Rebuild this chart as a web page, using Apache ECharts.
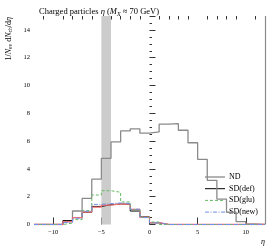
<!DOCTYPE html>
<html><head><meta charset="utf-8">
<script src="https://cdn.jsdelivr.net/npm/echarts@6/dist/echarts.min.js"></script>
<style>html,body{margin:0;padding:0;background:#fff}#c{width:274px;height:248px}</style>
</head><body><div id="c"></div>
<script>
const binEdges = [-12,-11,-10,-9,-8,-7,-6,-5,-4,-3,-2,-1,0,1,2,3,4,5,6,7,8,9,10,11,12];
const ndValues    = [0,0,0,0.2,0.97,1.88,3.26,4.76,5.94,6.73,6.88,6.57,6.66,7.22,7.25,6.78,5.88,4.69,3.18,1.83,0.88,0.2,0.05,0];
const sdDefValues = [0,0,0,0.28,0.5,0.88,1.3,1.42,1.48,1.45,0.97,0.55,0.12,0,0,0,0,0,0,0,0,0,0,0];
const sdRedValues = [0,0,0,0.2,0.5,0.9,1.25,1.4,1.48,1.47,1.09,0.52,0.13,0,0,0,0,0,0,0,0,0,0,0];
const sdGluValues = [0,0,0,0.1,0.35,1.0,2.12,2.43,2.32,1.62,1.06,0.52,0.18,0,0,0,0,0,0,0,0,0,0,0];
const sdNewValues = [0,0,0,0.15,0.45,0.95,1.45,1.5,1.55,1.52,1.1,0.5,0.12,0,0,0,0,0,0,0,0,0,0,0];
const majorXTicks = [-10,-5,0,5,10];
const minorXTicks = [-11,-9,-8,-7,-6,-4,-3,-2,-1,1,2,3,4,6,7,8,9,11];
const bandRange = [-5,-4];
const legendNames = ['ND','SD(def)','SD(glu)','SD(new)'];

function stepData(vals){
  const d = vals.map((v,i)=>[binEdges[i], v]);
  d.push([binEdges[binEdges.length-1], vals[vals.length-1]]);
  return d;
}
const F = 'Liberation Serif';
const chart = echarts.init(document.getElementById('c'));
const styles = {
  'ND':{color:'#8a8a8a', type:'solid', width:1.3},
  'SD(def)':{color:'#000000', type:'solid', width:1},
  'sd':{color:'#f07070', type:'solid', width:1.3},
  'SD(glu)':{color:'#66bb66', type:[3,2], width:1},
  'SD(new)':{color:'#6f8fe8', type:[4,1.5,1,1.5], width:1}
};
function lineSeries(name, vals, z){
  const s = styles[name];
  return {name, type:'line', data: stepData(vals), step:'end', symbol:'none', showSymbol:false,
    lineStyle:{color:s.color, type:s.type, width:s.width}, itemStyle:{color:s.color}, z, animation:false, silent:true};
}
const series = [
  Object.assign(lineSeries('ND', ndValues, 3), {
    markArea:{silent:true, itemStyle:{color:'#cccccc'}, data:[[{xAxis:bandRange[0]},{xAxis:bandRange[1]}]]},
    markLine:{silent:true, symbol:'none', label:{show:false}, lineStyle:{color:'#8a8a8a', type:'solid', width:1.2}, data:[{xAxis:12}]}
  }),
  lineSeries('SD(def)', sdDefValues, 4),
  lineSeries('sd', sdRedValues, 5),
  lineSeries('SD(glu)', sdGluValues, 6),
  lineSeries('SD(new)', sdNewValues, 7)
];
const legendGraphics = [];
legendNames.forEach((n,i)=>{
  const s = styles[n];
  const y = 177 + 11.7*i;
  legendGraphics.push({type:'line', shape:{x1:205,y1:y,x2:225,y2:y},
    style:{stroke:s.color, lineWidth:s.width, lineDash: Array.isArray(s.type)?s.type:null}});
  legendGraphics.push({type:'text', x:229, y:y, style:{text:n, font:'8px "Liberation Serif"', fill:'#000', textVerticalAlign:'middle'}});
});
chart.setOption({
  animation:false,
  grid: {left:34, right:9, top:16, bottom:23.5},
  title:{text:'{n|Charged particles }{i|η}{n| (}{i|M}{s|X}{n| ≈ 70 GeV)}', left:34, top:2,
    textStyle:{fontWeight:'normal', rich:{n:{fontFamily:F,fontSize:8.5,fontWeight:'normal',color:'#000'}, i:{fontFamily:F,fontSize:8.5,fontWeight:'normal',fontStyle:'italic',color:'#000'}, s:{fontFamily:F,fontSize:6,fontWeight:'normal',fontStyle:'italic',color:'#000',verticalAlign:'bottom',padding:[4,0,0,0]}}}},
  xAxis:[
    {type:'value', min:-12, max:12, axisLine:{show:false}, splitLine:{show:false},
     axisTick:{show:true, inside:true, length:7, customValues:majorXTicks, lineStyle:{color:'#000', width:0.8}},
     axisLabel:{customValues:majorXTicks, fontFamily:F, fontSize:6.5, color:'#000', margin:4,
       formatter:v=>String(v).replace('-','−')}},
    {type:'value', min:-12, max:12, axisLine:{show:false}, splitLine:{show:false},
     axisTick:{show:true, inside:true, length:3.5, customValues:minorXTicks, lineStyle:{color:'#000', width:0.8}},
     axisLabel:{show:false}}
  ],
  yAxis:{type:'value', min:0, max:15, interval:2, axisLine:{show:false}, splitLine:{show:false},
    axisTick:{show:true, inside:true, length:6, lineStyle:{color:'#000', width:0.8}},
    minorTick:{show:true, splitNumber:4, length:2.5, lineStyle:{color:'#000', width:0.8}},
    axisLabel:{fontFamily:F, fontSize:6.5, color:'#000', margin:4, showMaxLabel:false}},
  graphic:[
    {type:'text', x:263, y:238, style:{text:'η', font:'italic 8px "Liberation Serif"', fill:'#000', textAlign:'center'}},
    {type:'text', x:4, y:17, rotation:Math.PI/2,
      style:{text:'{n|1/}{i|N}{s|ev}{n| d}{i|N}{s|ch}{n|/d}{i|η}', textAlign:'right', textVerticalAlign:'top',
        rich:{n:{fontFamily:F,fontSize:8,fill:'#000'}, i:{fontFamily:F,fontSize:8,fontStyle:'italic',fill:'#000'}, s:{fontFamily:F,fontSize:5.5,fill:'#000',verticalAlign:'bottom',padding:[4,0,0,0]}}}}
  ].concat(legendGraphics),
  series
});
</script></body></html>
